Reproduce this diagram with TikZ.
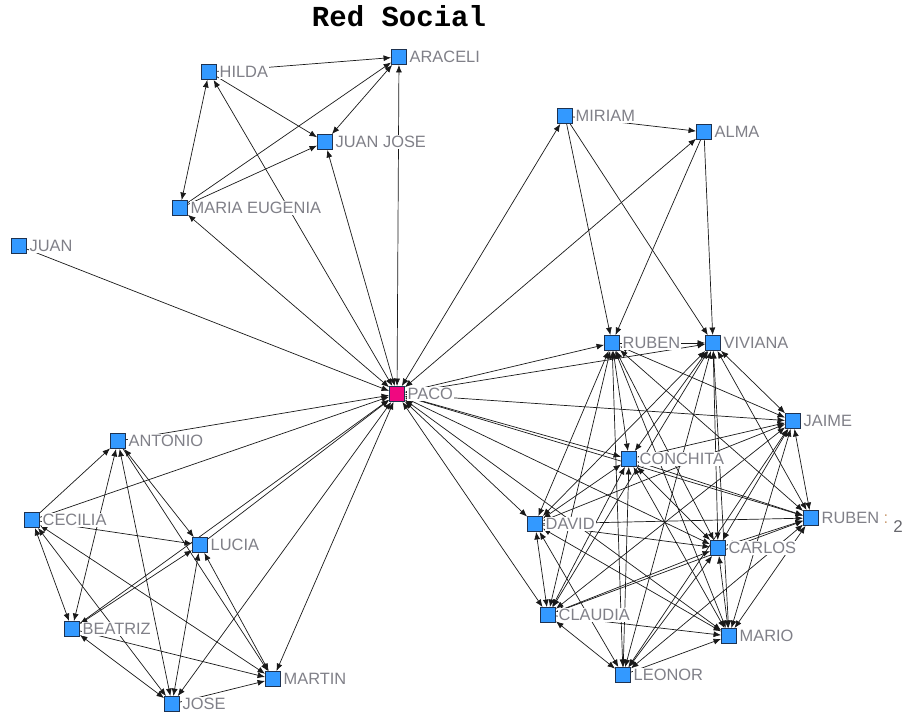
\documentclass[tikz,border=0pt]{standalone}
\usepackage{fontspec}
\setmainfont{Liberation Sans}
\newfontfamily\titlefont{Liberation Mono}
\usetikzlibrary{arrows.meta}
\definecolor{nodeblue}{RGB}{51,153,255}
\definecolor{nodeedge}{RGB}{30,50,80}
\definecolor{pacopink}{RGB}{240,8,128}
\definecolor{labelgray}{RGB}{128,128,136}
\definecolor{colonbrown}{RGB}{205,160,120}
\begin{document}
\begin{tikzpicture}[x=1pt,y=-1pt,
  spot/.style={rectangle,minimum size=15.5pt,inner sep=0pt},
  actor/.style={spot,draw=nodeedge,line width=0.9pt,fill=nodeblue},
  ego/.style={actor,fill=pacopink},
  lbl/.style={anchor=west,fill=white,inner sep=1pt,text=labelgray,
    font=\fontsize{16.4}{16}\selectfont,text height=11.8pt,text depth=0pt},
  tip/.tip={Latex[length=7.5pt,width=6pt]},
  tie/.style={draw=black!90,line width=0.7pt,-tip},
  mutual/.style={draw=black!90,line width=0.7pt,tip-tip},
]
\useasboundingbox (0,0) rectangle (909,715);

% actor positions
\foreach \n/\x/\y in {HILDA/209/72, ARACELI/399/57, JUANJOSE/325/142, MARIAE/180/208,
  JUAN/19/246, MIRIAM/565/116, ALMA/704/132, RUBEN/612/343, VIVIANA/713/343,
  PACO/397/394, JAIME/793/421, CONCHITA/629/459, ANTONIO/118/441, CECILIA/32/520,
  LUCIA/200/545, DAVID/535/524, RUBENB/811/518, CARLOS/718/548, BEATRIZ/72/629,
  CLAUDIA/548/615, MARIO/729/636, MARTIN/273/679, LEONOR/623/675, JOSE/172/704}
  \node[spot] (\n) at (\x,\y) {};

% one-way ties
\foreach \a/\b in {HILDA/ARACELI, HILDA/JUANJOSE, MARIAE/ARACELI, MARIAE/JUANJOSE,
  JUAN/PACO, MIRIAM/ALMA, MIRIAM/RUBEN, MIRIAM/VIVIANA, ALMA/RUBEN, ALMA/VIVIANA,
  LUCIA/PACO, BEATRIZ/PACO, CECILIA/PACO, ANTONIO/PACO,
  CECILIA/ANTONIO, CECILIA/LUCIA, ANTONIO/MARTIN, BEATRIZ/MARTIN, JOSE/MARTIN,
  RUBEN/VIVIANA, DAVID/RUBENB, CLAUDIA/MARIO, LEONOR/MARIO, DAVID/CARLOS}
  \draw[tie] (\a) -- (\b);

% reciprocated ties
\foreach \a/\b in {HILDA/MARIAE, JUANJOSE/ARACELI,
  PACO/ARACELI, PACO/JUANJOSE, PACO/HILDA, PACO/MARIAE, PACO/MIRIAM, PACO/ALMA,
  PACO/RUBEN, PACO/VIVIANA, PACO/JAIME, PACO/CONCHITA, PACO/RUBENB, PACO/CARLOS,
  PACO/MARIO, PACO/DAVID, PACO/CLAUDIA, PACO/MARTIN, PACO/JOSE,
  CECILIA/BEATRIZ, CECILIA/MARTIN, CECILIA/JOSE, ANTONIO/LUCIA, ANTONIO/BEATRIZ,
  ANTONIO/JOSE, BEATRIZ/LUCIA, BEATRIZ/JOSE, LUCIA/JOSE, LUCIA/MARTIN,
  RUBEN/JAIME, RUBEN/CONCHITA, RUBEN/DAVID, RUBEN/RUBENB, RUBEN/CARLOS,
  RUBEN/CLAUDIA, RUBEN/MARIO, RUBEN/LEONOR,
  VIVIANA/JAIME, VIVIANA/CONCHITA, VIVIANA/DAVID, VIVIANA/RUBENB, VIVIANA/CARLOS,
  VIVIANA/CLAUDIA, VIVIANA/MARIO, VIVIANA/LEONOR,
  JAIME/CONCHITA, JAIME/DAVID, JAIME/RUBENB, JAIME/CARLOS, JAIME/CLAUDIA,
  JAIME/MARIO, JAIME/LEONOR,
  CONCHITA/DAVID, CONCHITA/RUBENB, CONCHITA/CARLOS, CONCHITA/CLAUDIA,
  CONCHITA/MARIO, CONCHITA/LEONOR,
  DAVID/CLAUDIA, DAVID/MARIO, DAVID/LEONOR,
  RUBENB/CARLOS, RUBENB/CLAUDIA, RUBENB/MARIO, RUBENB/LEONOR,
  CARLOS/CLAUDIA, CARLOS/MARIO, CARLOS/LEONOR, CLAUDIA/LEONOR}
  \draw[mutual] (\a) -- (\b);

% labels sit on white so they hide the ties behind them
\foreach \n/\t in {HILDA/HILDA, ARACELI/ARACELI, JUANJOSE/JUAN JOSE,
  MARIAE/MARIA EUGENIA, JUAN/JUAN, MIRIAM/MIRIAM, ALMA/ALMA, RUBEN/RUBEN,
  VIVIANA/VIVIANA, PACO/PACO, JAIME/JAIME, CONCHITA/CONCHITA, ANTONIO/ANTONIO,
  CECILIA/CECILIA, LUCIA/LUCIA, DAVID/DAVID, CARLOS/CARLOS, BEATRIZ/BEATRIZ,
  CLAUDIA/CLAUDIA, MARIO/MARIO, MARTIN/MARTIN, LEONOR/LEONOR, JOSE/JOSE}
  \node[lbl] (\n-l) at ([xshift=9.5pt]\n.center) {\t};
\node[lbl] (RUBENB-l) at ([xshift=9.5pt]RUBENB.center) {RUBEN {\color{colonbrown}:}};
\node[text=labelgray!80!black,font=\fontsize{17}{17}\selectfont,inner sep=0pt]
  (two) at (898,527) {2};

% actor boxes
\foreach \n in {HILDA, ARACELI, JUANJOSE, MARIAE, JUAN, MIRIAM, ALMA, RUBEN,
  VIVIANA, JAIME, CONCHITA, ANTONIO, CECILIA, LUCIA, DAVID, RUBENB, CARLOS,
  BEATRIZ, CLAUDIA, MARIO, MARTIN, LEONOR, JOSE}
  \node[actor] (\n-b) at (\n.center) {};
\node[ego] (PACO-b) at (PACO.center) {};

\node[font=\titlefont\bfseries\fontsize{29}{29}\selectfont,inner sep=0pt]
  (title) at (399,16) {Red Social};
\end{tikzpicture}
\end{document}
